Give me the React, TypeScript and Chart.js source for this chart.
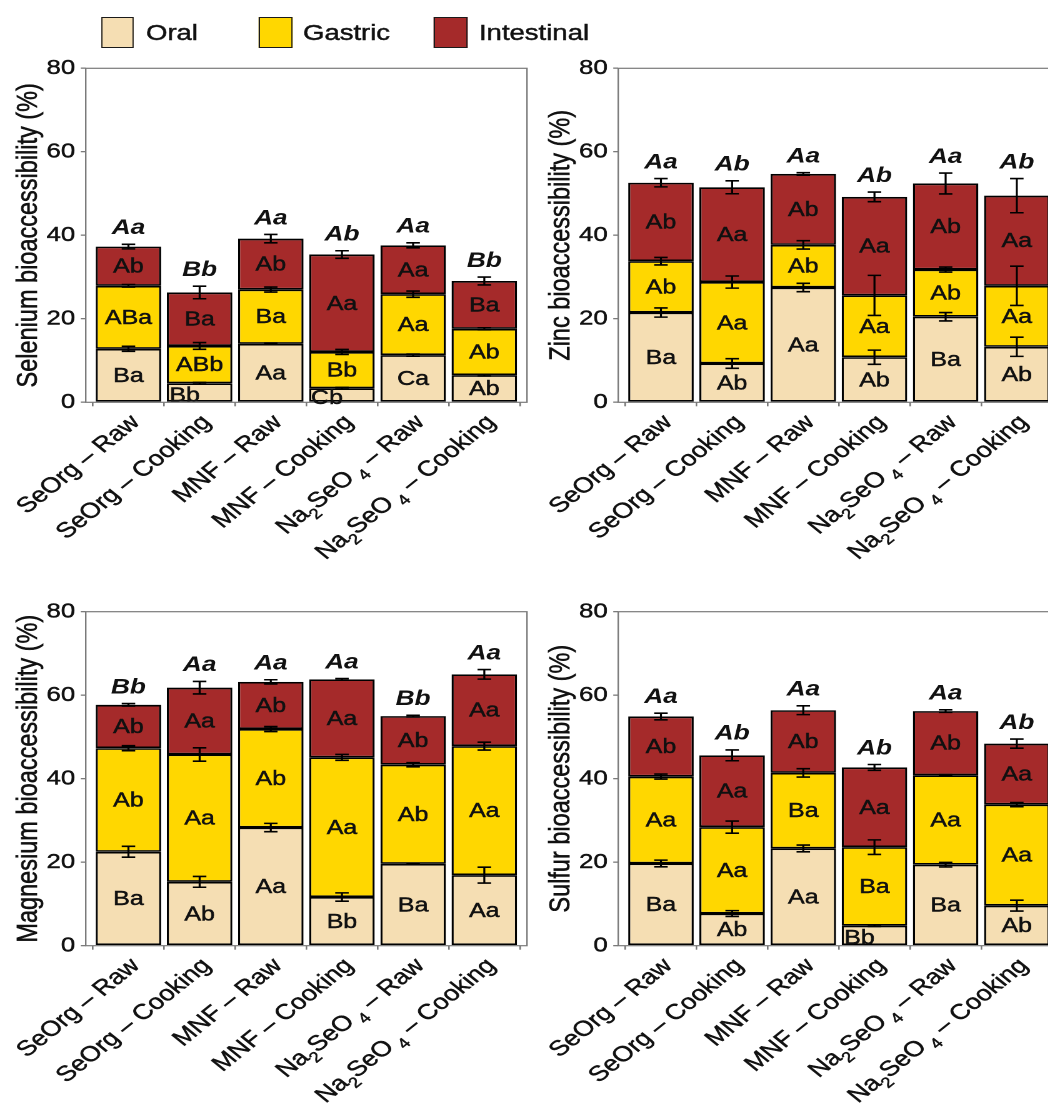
import React, { useEffect, useRef } from 'react';
import { Chart, registerables } from 'chart.js';

Chart.register(...registerables);

const FAMILY = "'Liberation Sans', Arial, Helvetica, sans-serif";
const SX = 1.25; // horizontal stretch of the whole figure
const FRAME = '#7a7a7a';
const INK = '#111111';
const TEXT_STROKE = 0.45;

// "_x" marks a subscript run
const categories = [
  'SeOrg – Raw',
  'SeOrg – Cooking',
  'MNF – Raw',
  'MNF – Cooking',
  'Na_2SeO_ 4 – Raw',
  'Na_2SeO_ 4 – Cooking',
];
const stageNames = ['Oral', 'Gastric', 'Intestinal'];
const stageColors = ['#F5DEB3', '#FFD700', '#A52A2A'];
const yTicks = [0, 20, 40, 60, 80];

// Selenium
const seOral = [12.8, 4.55, 14.0, 3.35, 11.3, 6.5];
const seGastric = [15.1, 8.95, 13.0, 8.7, 14.6, 11.1];
const seIntestinal = [9.4, 12.8, 12.2, 23.35, 11.7, 11.45];
const seSdOral = [0.6, 0.2, 0.2, 0.2, 0.25, 0.2];
const seSdGastric = [0.3, 0.8, 0.6, 0.6, 0.75, 0.25];
const seSdIntestinal = [0.55, 1.5, 1.0, 0.9, 0.6, 0.95];
const seLetOral = ['Ba', 'Bb', 'Aa', 'Cb', 'Ca', 'Ab'];
const seLetGastric = ['ABa', 'ABb', 'Ba', 'Bb', 'Aa', 'Ab'];
const seLetIntestinal = ['Ab', 'Ba', 'Ab', 'Aa', 'Aa', 'Ba'];
const seLetTotal = ['Aa', 'Bb', 'Aa', 'Ab', 'Aa', 'Bb'];

// Zinc
const znOral = [21.5, 9.3, 27.5, 10.8, 20.5, 13.3];
const znGastric = [12.3, 19.5, 10.2, 14.8, 11.3, 14.6];
const znIntestinal = [18.8, 22.7, 17.0, 23.6, 20.6, 21.6];
const znSdOral = [1.1, 1.15, 1.0, 1.7, 1.0, 2.3];
const znSdGastric = [0.9, 1.45, 1.0, 4.8, 0.6, 4.7];
const znSdIntestinal = [1.0, 1.55, 0.3, 1.15, 2.5, 4.1];
const znLetOral = ['Ba', 'Ab', 'Aa', 'Ab', 'Ba', 'Ab'];
const znLetGastric = ['Ab', 'Aa', 'Ab', 'Aa', 'Ab', 'Aa'];
const znLetIntestinal = ['Ab', 'Aa', 'Ab', 'Aa', 'Ab', 'Aa'];
const znLetTotal = ['Aa', 'Ab', 'Aa', 'Ab', 'Aa', 'Ab'];

// Magnesium
const mgOral = [22.5, 15.3, 28.3, 11.65, 19.6, 16.9];
const mgGastric = [24.8, 30.5, 23.6, 33.45, 23.75, 30.9];
const mgIntestinal = [10.4, 16.0, 11.3, 18.7, 11.65, 17.2];
const mgSdOral = [1.3, 1.3, 1.0, 1.0, 0.15, 1.9];
const mgSdGastric = [0.6, 1.6, 0.6, 0.7, 0.5, 0.95];
const mgSdIntestinal = [0.3, 1.5, 0.5, 0.2, 0.2, 1.15];
const mgLetOral = ['Ba', 'Ab', 'Aa', 'Bb', 'Ba', 'Aa'];
const mgLetGastric = ['Ab', 'Aa', 'Ab', 'Aa', 'Ab', 'Aa'];
const mgLetIntestinal = ['Ab', 'Aa', 'Ab', 'Aa', 'Ab', 'Aa'];
const mgLetTotal = ['Bb', 'Aa', 'Aa', 'Aa', 'Bb', 'Aa'];

// Sulfur
const sOral = [19.7, 7.7, 23.3, 4.8, 19.4, 9.6];
const sGastric = [20.8, 20.7, 18.1, 18.8, 21.4, 24.2];
const sIntestinal = [14.4, 17.2, 15.0, 19.1, 15.4, 14.6];
const sSdOral = [0.8, 0.7, 0.8, 0.2, 0.55, 1.3];
const sSdGastric = [0.6, 1.45, 1.0, 1.75, 0.15, 0.5];
const sSdIntestinal = [0.8, 1.3, 1.05, 0.7, 0.3, 1.1];
const sLetOral = ['Ba', 'Ab', 'Aa', 'Bb', 'Ba', 'Ab'];
const sLetGastric = ['Aa', 'Aa', 'Ba', 'Ba', 'Aa', 'Aa'];
const sLetIntestinal = ['Ab', 'Aa', 'Ab', 'Aa', 'Ab', 'Aa'];
const sLetTotal = ['Aa', 'Ab', 'Aa', 'Ab', 'Aa', 'Ab'];

type Panel = {
  title: string;
  segs: number[][];
  sds: number[][];
  letters: string[][];
  total: string[];
};

const panels: Panel[] = [
  {
    title: 'Selenium bioaccessibility (%)',
    segs: [seOral, seGastric, seIntestinal],
    sds: [seSdOral, seSdGastric, seSdIntestinal],
    letters: [seLetOral, seLetGastric, seLetIntestinal],
    total: seLetTotal,
  },
  {
    title: 'Zinc bioaccessibility (%)',
    segs: [znOral, znGastric, znIntestinal],
    sds: [znSdOral, znSdGastric, znSdIntestinal],
    letters: [znLetOral, znLetGastric, znLetIntestinal],
    total: znLetTotal,
  },
  {
    title: 'Magnesium bioaccessibility (%)',
    segs: [mgOral, mgGastric, mgIntestinal],
    sds: [mgSdOral, mgSdGastric, mgSdIntestinal],
    letters: [mgLetOral, mgLetGastric, mgLetIntestinal],
    total: mgLetTotal,
  },
  {
    title: 'Sulfur bioaccessibility (%)',
    segs: [sOral, sGastric, sIntestinal],
    sds: [sSdOral, sSdGastric, sSdIntestinal],
    letters: [sLetOral, sLetGastric, sLetIntestinal],
    total: sLetTotal,
  },
];

function fillStroke(ctx: CanvasRenderingContext2D, t: string, x: number, y: number) {
  ctx.fillText(t, x, y);
  ctx.strokeText(t, x, y);
}

function drawRotatedLabel(ctx: CanvasRenderingContext2D, label: string, x: number, y: number, f: number) {
  const parts = label.split(/(_ ?\d)/).filter((s) => s.length > 0).map((s) =>
    s.startsWith('_') ? { t: s.slice(1), sub: true } : { t: s, sub: false }
  );
  const mainF = `${f}px ${FAMILY}`;
  const subF = `${f * 0.68}px ${FAMILY}`;
  ctx.save();
  ctx.translate(x, y);
  ctx.rotate(-Math.PI / 4);
  ctx.textAlign = 'left';
  ctx.textBaseline = 'alphabetic';
  ctx.fillStyle = INK;
  ctx.strokeStyle = INK;
  ctx.lineWidth = TEXT_STROKE;
  const widths = parts.map((p) => {
    ctx.font = p.sub ? subF : mainF;
    return ctx.measureText(p.t).width;
  });
  let cx = -widths.reduce((a, b) => a + b, 0);
  parts.forEach((p, i) => {
    ctx.font = p.sub ? subF : mainF;
    fillStroke(ctx, p.t, cx, p.sub ? f * 0.3 : 0);
    cx += widths[i];
  });
  ctx.restore();
}

function makeAnnotPlugin(p: Panel) {
  return {
    id: 'annot',
    afterDatasetsDraw(chart: any) {
      const { ctx, chartArea: ca } = chart;
      const x = chart.scales.x;
      const y = chart.scales.y;
      ctx.save();
      // frame
      ctx.strokeStyle = FRAME;
      ctx.lineWidth = 1.2;
      ctx.strokeRect(ca.left, ca.top, ca.right - ca.left, ca.bottom - ca.top);

      const n = categories.length;
      const capHalf = 5.4;
      // error bars
      ctx.strokeStyle = '#000';
      ctx.lineWidth = 1.6;
      for (let i = 0; i < n; i++) {
        let cum = 0;
        for (let k = 0; k < 3; k++) {
          cum += p.segs[k][i];
          const sd = p.sds[k][i];
          const cx = x.getPixelForValue(i);
          const yt = y.getPixelForValue(cum + sd);
          const yb = y.getPixelForValue(cum - sd);
          ctx.beginPath();
          ctx.moveTo(cx, yt);
          ctx.lineTo(cx, yb);
          ctx.moveTo(cx - capHalf, yt);
          ctx.lineTo(cx + capHalf, yt);
          ctx.moveTo(cx - capHalf, yb);
          ctx.lineTo(cx + capHalf, yb);
          ctx.stroke();
        }
      }
      // segment letters
      ctx.fillStyle = INK;
      ctx.strokeStyle = INK;
      ctx.lineWidth = TEXT_STROKE;
      ctx.textAlign = 'center';
      ctx.textBaseline = 'middle';
      ctx.font = `20px ${FAMILY}`;
      for (let i = 0; i < n; i++) {
        let cum = 0;
        for (let k = 0; k < 3; k++) {
          const seg = p.segs[k][i];
          let cx = x.getPixelForValue(i);
          let cy = y.getPixelForValue(cum + seg / 2) + 1;
          if (seg < 5) {
            cx -= 12;
            cy += 2;
          }
          fillStroke(ctx, p.letters[k][i], cx, cy);
          cum += seg;
        }
      }
      // totals
      ctx.font = `italic bold 21px ${FAMILY}`;
      for (let i = 0; i < n; i++) {
        const tot = p.segs[0][i] + p.segs[1][i] + p.segs[2][i];
        const cy = y.getPixelForValue(tot + p.sds[2][i]) - 16;
        ctx.fillText(p.total[i], x.getPixelForValue(i), cy);
      }
      // y title
      ctx.save();
      ctx.translate(23, (ca.top + ca.bottom) / 2);
      ctx.rotate(-Math.PI / 2);
      ctx.font = `23.5px ${FAMILY}`;
      ctx.textAlign = 'center';
      ctx.textBaseline = 'middle';
      fillStroke(ctx, p.title, 0, 0);
      ctx.restore();
      // x labels
      for (let i = 0; i < n; i++) {
        drawRotatedLabel(ctx, categories[i], x.getPixelForValue(i) + 10, ca.bottom + 21, 21.5);
      }
      ctx.restore();
    },
  };
}

type PanelProps = {
  panel: Panel;
  left: number;
  top: number;
  width: number;
  height: number;
  plotTop: number;
  plotBottom: number;
};

function PanelChart({ panel, left, top, width, height, plotTop, plotBottom }: PanelProps) {
  const ref = useRef<HTMLCanvasElement | null>(null);
  useEffect(() => {
    if (!ref.current) return;
    const yAxisW = 68.6;
    const plotRight = 421.6;
    const xAxisH = height - (plotBottom - top);
    const chart = new Chart(ref.current, {
      type: 'bar',
      data: {
        datasets: stageNames.map((name, k) => ({
          label: name,
          data: panel.segs[k].map((v, i) => ({ x: i, y: v })),
          backgroundColor: stageColors[k],
          borderColor: '#000000',
          borderWidth: 1.7,
          borderSkipped: false,
          barPercentage: 0.92,
          categoryPercentage: 1,
        })),
      },
      options: {
        animation: false,
        responsive: true,
        maintainAspectRatio: false,
        devicePixelRatio: 2,
        layout: { padding: { top: plotTop - top, right: width - plotRight, left: 0, bottom: 0 } },
        plugins: { legend: { display: false }, tooltip: { enabled: false } },
        scales: {
          x: {
            type: 'linear',
            min: -0.6,
            max: 5.6,
            stacked: true,
            offset: false,
            border: { display: false },
            grid: { display: true, drawOnChartArea: false, drawTicks: true, tickLength: 4, color: FRAME, lineWidth: 1.3 },
            ticks: { display: false },
            afterBuildTicks: (s: any) => {
              s.ticks = categories.map((_, i) => ({ value: i }));
            },
            afterFit: (s: any) => {
              s.height = xAxisH;
            },
          },
          y: {
            min: 0,
            max: 80,
            stacked: true,
            border: { display: false },
            grid: { display: true, drawOnChartArea: false, drawTicks: true, tickLength: 4, color: FRAME, lineWidth: 1.3 },
            afterBuildTicks: (s: any) => {
              s.ticks = yTicks.map((v) => ({ value: v }));
            },
            ticks: {
              font: { family: FAMILY, size: 20.5 },
              color: INK,
              padding: 4.5,
              textStrokeColor: INK,
              textStrokeWidth: TEXT_STROKE,
            },
            title: { display: false },
            afterFit: (s: any) => {
              s.width = yAxisW;
            },
          },
        },
      } as any,
      plugins: [makeAnnotPlugin(panel)],
    });
    return () => chart.destroy();
  }, [panel, left, top, width, height, plotTop, plotBottom]);
  return (
    <div style={{ position: 'absolute', left, top, width, height }}>
      <canvas ref={ref} />
    </div>
  );
}

function Legend() {
  const keys = [80.8, 207.2, 347.2];
  const texts = [116.8, 242.4, 383.2];
  return (
    <>
      {stageNames.map((name, k) => (
        <React.Fragment key={name}>
          <div
            style={{
              position: 'absolute',
              left: keys[k],
              top: 17,
              width: 26.4,
              height: 31,
              boxSizing: 'border-box',
              background: stageColors[k],
              border: '1.7px solid #1a1a1a',
            }}
          />
          <div
            style={{
              position: 'absolute',
              left: texts[k],
              top: 18,
              height: 30,
              lineHeight: '30px',
              fontFamily: FAMILY,
              fontSize: 22,
              color: INK,
              whiteSpace: 'nowrap',
              WebkitTextStroke: `${TEXT_STROKE}px ${INK}`,
            }}
          >
            {name}
          </div>
        </React.Fragment>
      ))}
    </>
  );
}

export default function App() {
  return (
    <div
      style={{
        position: 'fixed',
        left: 0,
        top: 0,
        width: 1048,
        height: 1108,
        overflow: 'hidden',
        background: '#ffffff',
      }}
    >
      <div
        style={{
          position: 'absolute',
          left: 0,
          top: 0,
          width: 1048 / SX + 20,
          height: 1108,
          transform: `scaleX(${SX})`,
          transformOrigin: '0 0',
        }}
      >
        <Legend />
        <PanelChart panel={panels[0]} left={0} top={50} width={426} height={530} plotTop={68.3} plotBottom={402.3} />
        <PanelChart panel={panels[1]} left={426} top={50} width={426} height={530} plotTop={68.3} plotBottom={402.3} />
        <PanelChart panel={panels[2]} left={0} top={590} width={426} height={518} plotTop={611.7} plotBottom={945.7} />
        <PanelChart panel={panels[3]} left={426} top={590} width={426} height={518} plotTop={611.7} plotBottom={945.7} />
      </div>
    </div>
  );
}
